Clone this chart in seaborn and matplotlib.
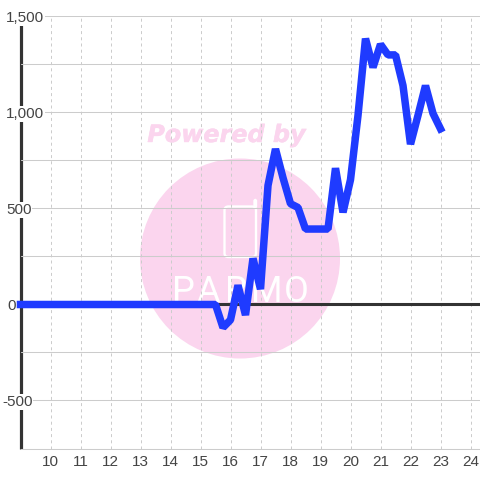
import matplotlib
matplotlib.use("Agg")
import matplotlib.pyplot as plt
import matplotlib.patheffects as pe
from matplotlib.patches import Circle, FancyBboxPatch
import pandas as pd
import seaborn as sns

hours = [9, 15.5, 15.75, 16, 16.25, 16.5, 16.75, 17, 17.25, 17.5, 17.75, 18, 18.25, 18.5,
         18.75, 19, 19.25, 19.5, 19.75, 20, 20.25, 20.5, 20.75, 21, 21.25, 21.5, 21.75,
         22, 22.25, 22.5, 22.75, 23]
values = [0, 0, -120, -80, 100, -55, 240, 80, 620, 810, 660, 525, 505, 393,
          393, 393, 393, 710, 480, 650, 985, 1385, 1235, 1355, 1300, 1300, 1140,
          835, 985, 1140, 995, 915]
x_ticks = list(range(10, 25))
y_ticks = [-750, -500, -250, 0, 250, 500, 750, 1000, 1250, 1500]
y_labels = ["", "-500", "", "0", "", "500", "", "1,000", "", "1,500"]
watermark = "Powered by"
logo_text = "PARMO"

sns.set_theme(style="white")
plt.rcParams["font.family"] = ["Liberation Sans", "DejaVu Sans"]

fig = plt.figure(figsize=(4.8, 4.8), dpi=100, facecolor="white")
W = H = 480.0
ax = fig.add_axes([20.5 / W, 1 - 448.5 / H, (480 - 20.5) / W, (448.5 - 16.5) / H])
ax.patch.set_alpha(0)
ax.set_zorder(5)

pink = "#fbd5ee"
def px(x, y):
    return x / W, 1 - y / H

fig.add_artist(Circle(px(240, 258.5), 100 / W, transform=fig.transFigure, fc=pink, ec="none", zorder=-3))
bx, by = px(224.5, 257)
fig.add_artist(FancyBboxPatch((bx, by), 31.5 / W, 50.5 / H, boxstyle="round,pad=0,rounding_size=0.008",
                              transform=fig.transFigure, fc="none", ec="white", lw=1.7, zorder=-2))
tx, ty = px(254.5, 207)
fig.add_artist(FancyBboxPatch((tx, ty), 1.5 / W, 7 / H, boxstyle="round,pad=0,rounding_size=0.002",
                              transform=fig.transFigure, fc="none", ec="white", lw=1.7, zorder=-2))
wm = fig.text(*px(226.5, 135), watermark, color=pink, fontsize=17.2, fontweight="bold", style="italic",
              family="DejaVu Sans", ha="center", va="center", zorder=-2)
wm.set_path_effects([pe.withStroke(linewidth=0.3, foreground=pink)])
for ch, cx in zip(logo_text, [183, 208, 236, 267, 296]):
    fig.text(*px(cx, 292), ch, color="white", fontsize=26, family="Roboto",
             ha="center", va="center", zorder=-2)

ax.set_xlim(9, 24 + 9.5 / 30)
ax.set_ylim(-750, 1500)
ax.set_axisbelow(True)
ax.yaxis.set_zorder(0.6)
ax.xaxis.set_zorder(0.5)
ax.grid(True, axis="y", color="#cccccc", lw=0.75, ls="-")
ax.grid(True, axis="x", color="#cccccc", lw=0.72, ls=(0, (3, 3.2)))
ax.set_xticks(x_ticks)
ax.set_yticks(y_ticks)
ax.set_yticklabels(y_labels)
ax.tick_params(axis="both", length=0, labelsize=11, labelcolor="#444444")
ax.tick_params(axis="x", pad=4.8)
ax.tick_params(axis="y", pad=10.5)
label_pads = {"-500": 13.2, "0": 9.8}
for tick, text in zip(ax.yaxis.get_major_ticks(), y_labels):
    tick.set_pad(label_pads.get(text, 10.5))
    tick.label1.set_ha("left")
    tick.label1.set_va("center_baseline")
    tick.label1.set_bbox(dict(fc="white", ec="none", pad=0.5))

for s in ["top", "right"]:
    ax.spines[s].set_visible(False)
ax.spines["bottom"].set_color("#cccccc")
ax.spines["bottom"].set_linewidth(0.75)
ax.spines["bottom"].set_zorder(0.4)
ax.spines["left"].set_color("#333333")
ax.spines["left"].set_linewidth(2.3)
ax.spines["left"].set_capstyle("butt")
ax.spines["left"].set_zorder(0.3)

ax.axhline(0, color="#333333", lw=2.2, zorder=1)
df = pd.DataFrame({"hour": hours, "value": values})
sns.lineplot(data=df, x="hour", y="value", ax=ax, color="#1f3bff", lw=5.4, errorbar=None, zorder=3,
             solid_joinstyle="bevel", solid_capstyle="projecting", clip_on=False)
ax.set_xlabel("")
ax.set_ylabel("")

fig.savefig("out.png", dpi=100, facecolor="white")
